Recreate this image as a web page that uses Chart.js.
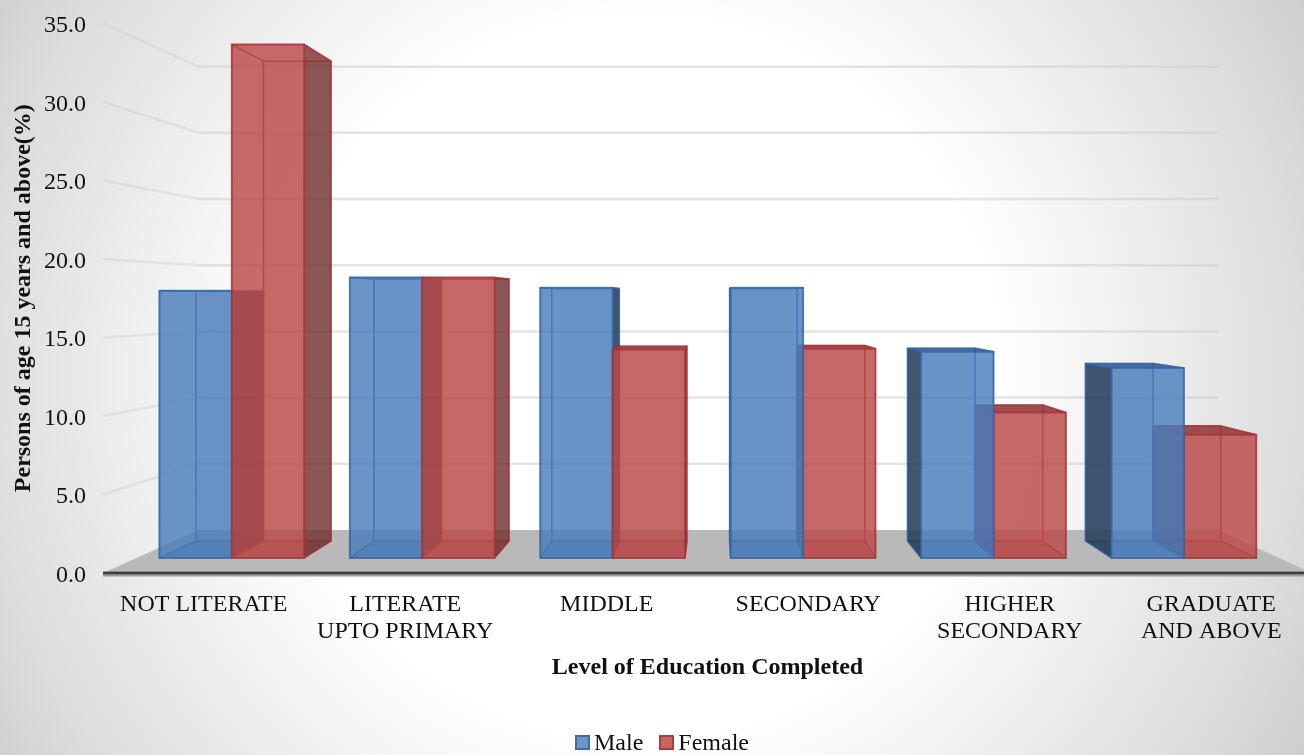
<!DOCTYPE html>
<html>
<head>
    <meta charset="UTF-8">
    <title>Level of Education Completed</title>
    <script src="https://cdn.jsdelivr.net/npm/chart.js"></script>
    <style>
        html, body {
            margin: 0;
            width: 1304px;
            height: 755px;
            overflow: hidden;
            background: radial-gradient(circle at 49% 50%, #ffffff 47%, #eeeeee 67%, #dcdcdc 87%, #cecece 100%);
            font-family: "Liberation Serif", serif;
            position: relative;
        }
        canvas { position: absolute; left: 0; top: 0; filter: blur(0.5px); }
        #legend {
            position: absolute;
            left: 575px;
            top: 727px;
            font-size: 24px;
            line-height: 30px;
            color: #111;
            white-space: nowrap;
            filter: blur(0.4px);
        }
        #legend span.item { margin-right: 16px; }
        #legend i {
            display: inline-block;
            width: 11px;
            height: 11px;
            margin-right: 4px;
            border: 2px solid;
        }
    </style>
</head>
<body>
    <canvas id="chart" width="1320" height="755"></canvas>
    <div id="legend"></div>

    <script>
        const categories = ["NOT LITERATE", ["LITERATE", "UPTO PRIMARY"], "MIDDLE", "SECONDARY", ["HIGHER", "SECONDARY"], ["GRADUATE", "AND ABOVE"]];
        const male = [18.0, 18.9, 18.2, 18.2, 13.9, 12.8];
        const female = [34.6, 18.9, 14.05, 14.1, 9.8, 8.3];
        const yTicks = [0, 5, 10, 15, 20, 25, 30, 35];

        // perspective: everything converges to this point, f = how far back the plane is
        const vx = 714, vy = 299;
        const BAR_FRONT = 0.945, BAR_BACK = 0.883, WALL = 0.843;
        function pr(x, y, f) {
            return [vx + (x - vx) * f, vy + (y - vy) * f];
        }

        function poly(ctx, pts, fill, stroke, lw) {
            ctx.beginPath();
            pts.forEach((p, i) => i ? ctx.lineTo(p[0], p[1]) : ctx.moveTo(p[0], p[1]));
            ctx.closePath();
            if (fill) { ctx.fillStyle = fill; ctx.fill(); }
            if (stroke) { ctx.strokeStyle = stroke; ctx.lineWidth = lw || 1.5; ctx.stroke(); }
        }

        const blue = { fill: "74,124,186", edge: "rgba(50,100,165,0.65)", side: "rgba(38,60,88,0.86)", under: "rgba(55,100,160,0.4)", lid: "rgba(50,95,155,0.9)" };
        const red = { fill: "188,72,72", edge: "rgba(165,50,55,0.65)", side: "rgba(115,50,50,0.8)", under: "rgba(150,50,50,0.4)", lid: "rgba(150,60,60,0.9)" };

        function drawBox(ctx, bar, col) {
            const l = bar.x - bar.width / 2, r = bar.x + bar.width / 2, t = bar.y, b = bar.base;
            const fTL = pr(l, t, BAR_FRONT), fTR = pr(r, t, BAR_FRONT), fBL = pr(l, b, BAR_FRONT), fBR = pr(r, b, BAR_FRONT);
            const bTL = pr(l, t, BAR_BACK), bTR = pr(r, t, BAR_BACK), bBL = pr(l, b, BAR_BACK), bBR = pr(r, b, BAR_BACK);

            ctx.lineJoin = "round";

            // back, floor
            poly(ctx, [bTL, bTR, bBR, bBL], `rgba(${col.fill},0.15)`, col.edge, 1.5);
            poly(ctx, [fBL, fBR, bBR, bBL], col.under, col.edge, 1.5);

            // sides, the one that faces the camera is dark
            const leftDark = l > vx, rightDark = r < vx;
            poly(ctx, [fTL, bTL, bBL, fBL], leftDark ? col.side : `rgba(${col.fill},0.08)`, col.edge, 1.5);
            poly(ctx, [fTR, bTR, bBR, fBR], rightDark ? col.side : `rgba(${col.fill},0.08)`, col.edge, 1.5);

            // top
            poly(ctx, [fTL, fTR, bTR, bTL], t > vy ? col.lid : `rgba(${col.fill},0.08)`, col.edge, 1.5);

            // front
            poly(ctx, [fTL, fTR, fBR, fBL], `rgba(${col.fill},0.8)`, col.edge, 2);
        }

        const scene = {
            id: "scene",
            beforeDraw(chart) {
                const ctx = chart.ctx, y = chart.scales.y, area = chart.chartArea;
                // y labels sit a little low in the original
                y.getLabelItems().forEach(item => {
                    if (!item.moved) { item.textOffset += 2.5; item.moved = true; }
                });
                ctx.save();
                // floor
                const y0 = y.getPixelForValue(0);
                poly(ctx, [[area.left, y0], [area.right, y0], pr(area.right, y0, WALL), pr(area.left, y0, WALL)], "#b9b9b9");
                // wall lines
                ctx.lineJoin = "round";
                ctx.lineWidth = 2.5;
                yTicks.slice(1).forEach(v => {
                    const py = y.getPixelForValue(v);
                    const a = pr(area.left, py, WALL), b = pr(area.right, py, WALL);
                    ctx.beginPath();
                    ctx.moveTo(area.left, py);
                    ctx.lineTo(a[0], a[1]);
                    ctx.strokeStyle = "rgba(205,205,205,0.4)";
                    ctx.stroke();
                    ctx.beginPath();
                    ctx.moveTo(a[0], a[1]);
                    ctx.lineTo(b[0], b[1]);
                    ctx.strokeStyle = "rgba(205,205,205,0.55)";
                    ctx.stroke();
                });
                ctx.restore();
            },
            beforeDatasetsDraw(chart) {
                const ctx = chart.ctx;
                const bars = [];
                [blue, red].forEach((col, i) => {
                    chart.getDatasetMeta(i).data.forEach(el => {
                        bars.push({ props: el.getProps(["x", "y", "base", "width"], true), col });
                    });
                });
                // farthest from the camera axis first
                bars.sort((a, b) => Math.abs(b.props.x - vx) - Math.abs(a.props.x - vx));
                ctx.save();
                bars.forEach(b => drawBox(ctx, b.props, b.col));
                ctx.restore();
                return false;
            },
            afterDraw(chart) {
                const ctx = chart.ctx, y0 = chart.scales.y.getPixelForValue(0), area = chart.chartArea;
                ctx.save();
                ctx.strokeStyle = "#9a9a9a";
                ctx.lineWidth = 5;
                ctx.beginPath();
                ctx.moveTo(area.left, y0 + 1);
                ctx.lineTo(area.right, y0 + 1);
                ctx.stroke();
                ctx.strokeStyle = "#3c3c3c";
                ctx.lineWidth = 2.5;
                ctx.beginPath();
                ctx.moveTo(area.left, y0);
                ctx.lineTo(area.right, y0);
                ctx.stroke();
                ctx.restore();
            }
        };

        const serif = "'Liberation Serif', serif";

        new Chart(document.getElementById("chart"), {
            type: "bar",
            data: {
                labels: categories,
                datasets: [
                    { label: "Male", data: male, backgroundColor: "#6b94c8", borderColor: "#3d6ca5" },
                    { label: "Female", data: female, backgroundColor: "#c96464", borderColor: "#a04040" }
                ]
            },
            options: {
                responsive: false,
                animation: false,
                categoryPercentage: 0.76,
                barPercentage: 1,
                layout: { padding: { top: 18, right: 8, left: 0, bottom: 0 } },
                plugins: { legend: { display: false }, tooltip: { enabled: true } },
                scales: {
                    x: {
                        grid: { display: false },
                        border: { display: false },
                        afterFit: s => { s.height = 182; },
                        ticks: {
                            color: "#111",
                            padding: 10,
                            maxRotation: 0,
                            autoSkip: false,
                            font: { family: serif, size: 24, lineHeight: 1.125 }
                        },
                        title: {
                            display: true,
                            text: "Level of Education Completed",
                            color: "#111",
                            padding: { top: 0, bottom: 73 },
                            font: { family: serif, size: 24, weight: "bold" }
                        }
                    },
                    y: {
                        min: 0,
                        max: 35,
                        afterFit: s => { s.width = 103; },
                        afterBuildTicks: s => { s.ticks = yTicks.map(v => ({ value: v })); },
                        grid: { display: false },
                        border: { display: false },
                        ticks: {
                            color: "#111",
                            padding: 9,
                            callback: v => v.toFixed(1),
                            font: { family: serif, size: 24 }
                        },
                        title: {
                            display: true,
                            text: "Persons of age 15 years and above(%)",
                            color: "#111",
                            padding: { top: 9, bottom: 0 },
                            font: { family: serif, size: 24, weight: "bold" }
                        }
                    }
                }
            },
            plugins: [scene]
        });

        // legend sits closer to its boxes than the built-in one allows
        document.getElementById("legend").innerHTML = [["Male", "#6b94c8", "#3d6ca5"], ["Female", "#c96464", "#a04040"]]
            .map(l => `<span class="item"><i style="background:${l[1]};border-color:${l[2]}"></i>${l[0]}</span>`).join("");
    </script>
</body>
</html>
